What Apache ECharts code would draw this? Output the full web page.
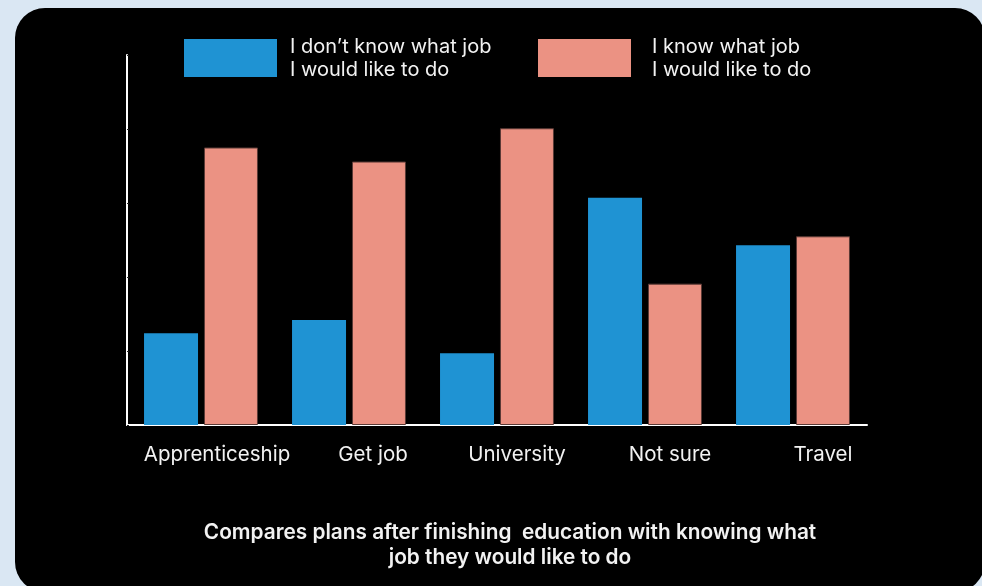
<!DOCTYPE html>
<html>
<head>
<meta charset="utf-8">
<script src="https://cdn.jsdelivr.net/npm/echarts@6/dist/echarts.min.js"></script>
<style>
  html, body { margin: 0; padding: 0; background: #dae7f3; }
  #chart { width: 982px; height: 586px; }
</style>
</head>
<body>
<div id="chart"></div>
<script>
// Plans after finishing education, split by whether the pupil knows what job they want
const categories = ['Apprenticeship', 'Get job', 'University', 'Not sure', 'Travel'];
const dontKnowValues = [12.4, 14.2, 9.7, 30.7, 24.3];
const knowValues = [37.5, 35.6, 40.1, 19.1, 25.5];
const seriesNames = ["I don\u2019t know what job\nI would like to do", 'I know what job\nI would like to do'];
const titleText = 'Compares plans after finishing  education with knowing what\njob they would like to do';

// per-label nudge to the right (px of left padding)
const labelShift = [32, 48, 40, 50, 60];

const FONT = 'Inter, "Noto Sans", sans-serif';
const BLUE = '#1f93d3';
const SALMON = '#eb9283';

const chart = echarts.init(document.getElementById('chart'), null, { renderer: 'canvas' });

function legendText(gap) {
  return {
    color: '#f2f2f2',
    fontFamily: FONT,
    fontSize: 20,
    lineHeight: 23,
    padding: [0, 0, 0, gap]
  };
}

chart.setOption({
  backgroundColor: '#dae7f3',
  animation: false,
  graphic: [{
    type: 'rect',
    z: -10,
    shape: { x: 15, y: 8, width: 970, height: 584, r: 30 },
    style: { fill: '#000000' }
  }],
  title: {
    text: titleText,
    left: 510,
    textAlign: 'center',
    top: 520,
    padding: 0,
    textStyle: {
      color: '#f2f2f2',
      fontFamily: FONT,
      fontWeight: 600,
      fontSize: 20.8,
      lineHeight: 25
    }
  },
  legend: [{
    data: [seriesNames[0]],
    left: 184,
    top: 35,
    padding: 0,
    itemWidth: 93,
    itemHeight: 38,
    icon: 'rect',
    textStyle: legendText(8)
  }, {
    data: [seriesNames[1]],
    left: 538,
    top: 35,
    padding: 0,
    itemWidth: 93,
    itemHeight: 38,
    icon: 'rect',
    itemStyle: { borderWidth: 0 },
    textStyle: legendText(16)
  }],
  grid: { left: 127, top: 55, width: 740, height: 370, containLabel: false },
  xAxis: {
    type: 'category',
    data: categories.map((c, i) => ({ value: c, textStyle: { padding: [0, 0, 0, labelShift[i]] } })),
    axisLine: { show: true, lineStyle: { color: '#ffffff', width: 2 } },
    axisTick: { show: false },
    axisLabel: {
      interval: 0,
      hideOverlap: false,
      color: '#f2f2f2',
      fontFamily: FONT,
      fontSize: 20.5,
      margin: 19
    }
  },
  yAxis: {
    type: 'value',
    min: 0,
    max: 50,
    interval: 10,
    axisLine: { show: true, lineStyle: { color: '#ffffff', width: 2 } },
    axisTick: { show: true, length: 2, inside: true, lineStyle: { color: '#222222' } },
    axisLabel: { show: false },
    splitLine: { show: false }
  },
  series: [{
    name: seriesNames[0],
    type: 'bar',
    data: dontKnowValues,
    barWidth: 54,
    barGap: '11%',
    itemStyle: { color: BLUE }
  }, {
    name: seriesNames[1],
    type: 'bar',
    data: knowValues,
    barWidth: 54,
    itemStyle: { color: SALMON, borderColor: '#5b3a36', borderWidth: 1 }
  }]
});
</script>
</body>
</html>
